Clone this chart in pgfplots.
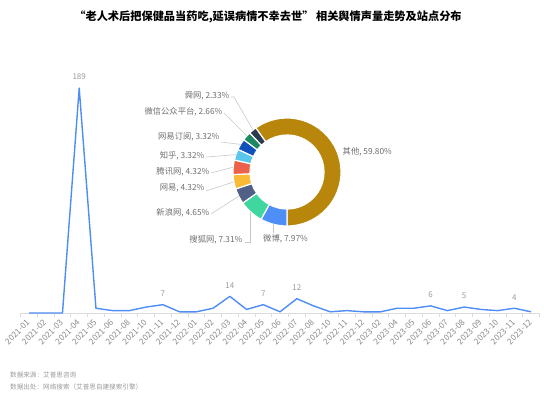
\documentclass[border=0pt]{standalone}
\usepackage{pgfplots}
\pgfplotsset{compat=1.18}
\usepackage{fontspec}
\setmainfont{Noto Sans CJK SC}
\definecolor{lineblue}{HTML}{4E8DF5}
\definecolor{axisgray}{HTML}{DCDCDC}
\definecolor{ticktext}{HTML}{8A8A8A}
\definecolor{lbltext}{HTML}{9A9A9A}
\definecolor{pietext}{HTML}{6E6E6E}
\definecolor{leader}{HTML}{C8C8C8}
\definecolor{cA}{HTML}{B8860B}
\definecolor{cB}{HTML}{4D8FF7}
\definecolor{cC}{HTML}{40D6A0}
\definecolor{cD}{HTML}{506086}
\definecolor{cE}{HTML}{F9BB36}
\definecolor{cF}{HTML}{EB614B}
\definecolor{cG}{HTML}{5AC6EB}
\definecolor{cH}{HTML}{0D50BE}
\definecolor{cI}{HTML}{1E8862}
\definecolor{cJ}{HTML}{2C3A50}
\begin{document}
\begin{tikzpicture}[x=1bp,y=1bp]
\useasboundingbox (0,0) rectangle (544,395);
% title
\node[font=\fontsize{11.2bp}{13bp}\selectfont\bfseries, text=black] at (268,378) {“老人术后把保健品当药吃,延误病情不幸去世” 相关舆情声量走势及站点分布};
% footer
\node[anchor=west, font=\fontsize{6.6bp}{8bp}\selectfont, text=lbltext, inner sep=0] at (10,20) {数据来源：艾普思咨询};
\node[anchor=west, font=\fontsize{6.6bp}{8bp}\selectfont, text=lbltext, inner sep=0] at (10,8) {数据出处：网络搜索（艾普思自建搜索引擎）};
\begin{axis}[at={(29bp,82bp)}, anchor=origin, scale only axis,
  width=518.8bp, height=253bp,
  xmin=-0.5, xmax=30.5, ymin=0, ymax=212.6,
  axis y line=none, axis x line*=bottom,
  x axis line style={axisgray, line width=0.8bp},
  clip=false,
  /pgf/number format/assume math mode=true,
  xtick={0,...,30},
  xticklabels={2021-01,2021-02,2021-03,2021-04,2021-05,2021-06,2021-08,2021-10,2021-11,2021-12,2022-01,2022-02,2022-03,2022-04,2022-05,2022-06,2022-07,2022-08,2022-10,2022-11,2022-12,2023-02,2023-04,2023-05,2023-06,2023-07,2023-08,2023-09,2023-10,2023-11,2023-12},
  major tick length=0pt,
  xticklabel style={rotate=45, anchor=east, font=\fontsize{8.3bp}{10bp}\selectfont, text=ticktext, inner sep=1bp},
  xticklabel shift=7.5bp,
  extra x ticks={-0.5,0.5,...,30.5},
  extra x tick labels={},
  extra x tick style={major tick length=4bp, tick align=outside, tick style={axisgray, line width=0.8bp}},
  ytick=\empty,
]
\addplot[lineblue, line width=1.4bp, line join=round, mark=none] coordinates {
(0,0) (1,0) (2,0) (3,189) (4,4) (5,2) (6,2) (7,5) (8,7) (9,1) (10,1) (11,4) (12,14) (13,3) (14,7) (15,1) (16,12) (17,6) (18,1) (19,2) (20,1) (21,1) (22,4) (23,4) (24,6) (25,2) (26,5) (27,3) (28,2) (29,4) (30,1)};
\addplot[draw=none, mark=none, nodes near coords, point meta=y,
  every node near coord/.append style={font=\fontsize{8bp}{9bp}\selectfont, text=lbltext, anchor=south, inner sep=0pt, yshift=8bp}]
coordinates {(3,189) (8,7) (12,14) (14,7) (16,12) (24,6) (26,5) (29,4)};
\end{axis}
% donut
\begin{scope}[shift={(287,223)}]
\gdef\startang{125.28}
\foreach \v/\c in {59.80/cA, 7.97/cB, 7.31/cC, 4.65/cD, 4.32/cE, 4.32/cF, 3.32/cG, 3.32/cH, 2.66/cI, 2.33/cJ} {
  \pgfmathsetmacro\endang{\startang-3.6*\v}
  \fill[\c, draw=white, line width=1.2bp] (\startang:54bp) arc[start angle=\startang, end angle=\endang, radius=54bp] -- (\endang:37bp) arc[start angle=\endang, end angle=\startang, radius=37bp] -- cycle;
  \xdef\startang{\endang}
}
\end{scope}
% leader lines
\begin{scope}[leader, line width=0.6bp]
\draw (253,265) -- (234,298) -- (231,298);
\draw (247,259) -- (224,282);
\draw (240.6,250.6) -- (221,253);
\draw (236,240.4) -- (206,238);
\draw (233,227.8) -- (211,222);
\draw (234,213.2) -- (206,204);
\draw (238.7,198.8) -- (211,181);
\draw (250,183) -- (250,153) -- (245,153);
\draw (273.6,170.7) -- (273.6,162);
\end{scope}
\begin{scope}[every node/.style={font=\fontsize{8.3bp}{10bp}\selectfont, text=pietext, inner sep=0.5bp}]
\node[anchor=east] at (230,299) {舜网, 2.33\%};
\node[anchor=east] at (223,283) {微信公众平台, 2.66\%};
\node[anchor=east] at (220,258) {网易订阅, 3.32\%};
\node[anchor=east] at (205,239) {知乎, 3.32\%};
\node[anchor=east] at (210,223) {腾讯网, 4.32\%};
\node[anchor=east] at (205,207) {网易, 4.32\%};
\node[anchor=east] at (210,182) {新浪网, 4.65\%};
\node[anchor=east] at (243,155) {搜狐网, 7.31\%};
\node[anchor=north] at (285.5,161) {微博, 7.97\%};
\node[anchor=west] at (342,243) {其他, 59.80\%};
\end{scope}
\end{tikzpicture}
\end{document}
